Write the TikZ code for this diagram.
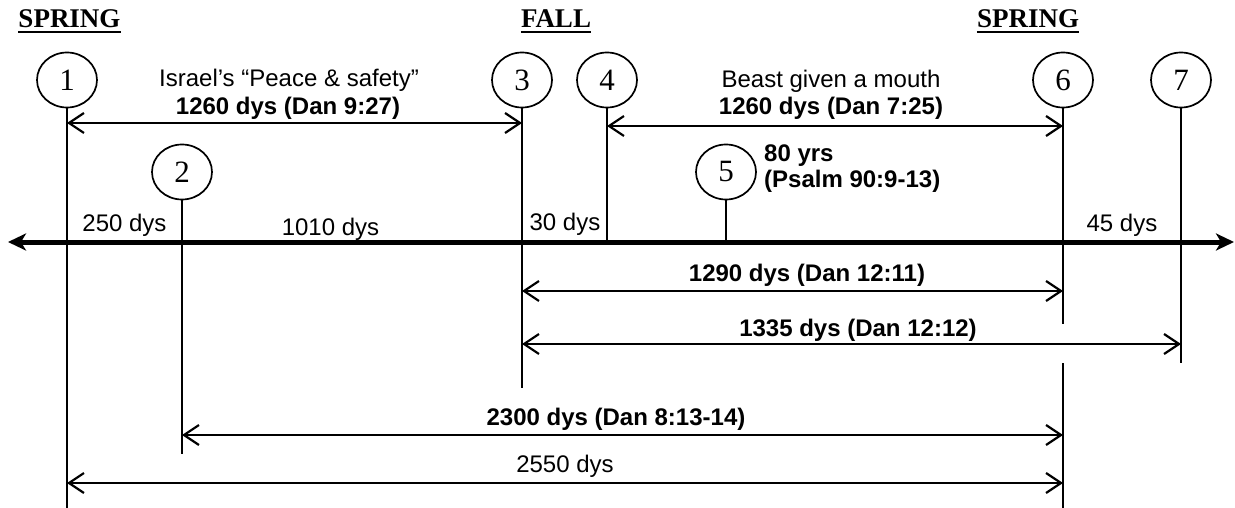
\documentclass[tikz,border=0pt]{standalone}
\usepackage{fontspec}
\setmainfont{Liberation Sans}
\newfontfamily\timesfont{Liberation Serif}
\usetikzlibrary{arrows.meta,shapes.geometric}
\begin{document}
\begin{tikzpicture}[x=1pt,y=-1pt,
  circ/.style={draw,line width=1.7pt,ellipse,minimum width=60pt,minimum height=55pt,inner sep=0pt,font=\timesfont\fontsize{31}{33}\selectfont},
  vline/.style={line width=1.7pt},
  dimarrow/.style={line width=2.2pt,{Straight Barb[length=15pt,width=20pt]}-{Straight Barb[length=15pt,width=20pt]}},
  axisline/.style={line width=5pt,{Stealth[length=18pt,width=17pt,inset=5pt]}-{Stealth[length=18pt,width=17pt,inset=5pt]}},
  lbl/.style={inner sep=0pt,anchor=base,font=\fontsize{24}{28}\selectfont},
  blbl/.style={inner sep=0pt,anchor=base,font=\fontsize{24}{28}\selectfont\bfseries},
  head/.style={inner sep=0pt,anchor=base,font=\timesfont\fontsize{27}{30}\selectfont\bfseries},
  uline/.style={line width=1.8pt}
]
\useasboundingbox (0,0) rectangle (1235,508);

% headings
\node[head] (h1) at (69.5,27.7) {SPRING};
\node[head] (h2) at (556,27.7) {FALL};
\node[head] (h3) at (1028,27.7) {SPRING};
\foreach \h in {h1,h2,h3}{
  \draw[uline] ([yshift=-4.5pt]\h.base west) -- ([yshift=-4.5pt]\h.base east);
}

% circles
\node[circ] (c1) at (67,80) {1};
\node[circ] (c2) at (182,172) {2};
\node[circ] (c3) at (522,80) {3};
\node[circ] (c4) at (607,80) {4};
\node[circ] (c5) at (726,172) {5};
\node[circ] (c6) at (1063,80) {6};
\node[circ] (c7) at (1181,80) {7};

% line ends
\coordinate (b1) at (67,508);
\coordinate (b2) at (182,454);
\coordinate (b3) at (522,388);
\coordinate (b4) at (607,242);
\coordinate (b5) at (726,242);
\coordinate (b6a) at (1063,324);
\coordinate (b6b) at (1063,363);
\coordinate (b6c) at (1063,508);
\coordinate (b7) at (1181,363);
\coordinate (axL) at (8,242);
\coordinate (axR) at (1234,242);

% vertical lines
\draw[vline] (c1.south) -- (b1);
\draw[vline] (c2.south) -- (b2);
\draw[vline] (c3.south) -- (b3);
\draw[vline] (c4.south) -- (b4);
\draw[vline] (c5.south) -- (b5);
\draw[vline] (c6.south) -- (b6a);
\draw[vline] (b6b) -- (b6c);
\draw[vline] (c7.south) -- (b7);

% axis
\draw[axisline] (axL) -- (axR);

% dimension arrows
\draw[dimarrow] (c1 |- 0,123) -- (c3 |- 0,123);
\draw[dimarrow] (c4 |- 0,126) -- (c6 |- 0,126);
\draw[dimarrow] (c3 |- 0,291) -- (c6 |- 0,291);
\draw[dimarrow] (c3 |- 0,344) -- (c7 |- 0,344);
\draw[dimarrow] (c2 |- 0,435) -- (c6 |- 0,435);
\draw[dimarrow] (c1 |- 0,483) -- (c6 |- 0,483);

% labels
\node[lbl] (t1) at (289,87) {Israel’s “Peace \& safety”};
\node[blbl] (t2) at (288,115) {1260 dys (Dan 9:27)};
\node[lbl] (t3) at (831,88) {Beast given a mouth};
\node[blbl] (t4) at (831,115) {1260 dys (Dan 7:25)};
\node[blbl,anchor=base west] (t5) at (764,161.5) {80 yrs};
\node[blbl,anchor=base west] (t6) at (764,188) {(Psalm 90:9-13)};
\node[lbl] (t7) at (124.5,231.5) {250 dys};
\node[lbl] (t8) at (330.5,235) {1010 dys};
\node[lbl] (t9) at (565,230) {30 dys};
\node[lbl] (t10) at (1122,231.5) {45 dys};
\node[blbl] (t11) at (807,281.5) {1290 dys (Dan 12:11)};
\node[blbl] (t12) at (858,336) {1335 dys (Dan 12:12)};
\node[blbl] (t13) at (616,425) {2300 dys (Dan 8:13-14)};
\node[lbl] (t14) at (565,472.5) {2550 dys};
\end{tikzpicture}
\end{document}
